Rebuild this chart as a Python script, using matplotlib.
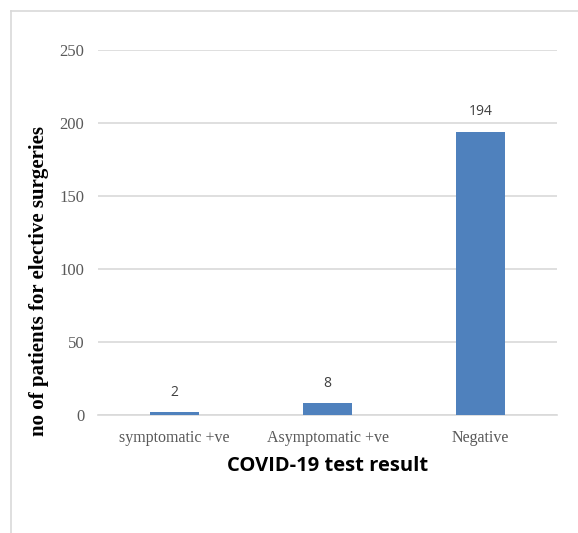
import matplotlib.pyplot as plt
from matplotlib.lines import Line2D

categories = ["symptomatic +ve", "Asymptomatic +ve", "Negative"]
patients = [2, 8, 194]
y_ticks = [0, 50, 100, 150, 200, 250]

fig = plt.figure(figsize=(5.78, 5.33), dpi=100)
ax = fig.add_axes([0.1696, 0.2214, 0.7941, 0.6848])

x = range(len(categories))
ax.bar(x, patients, width=0.32, color="#4f81bd", zorder=3)

for xi, v in zip(x, patients):
    ax.annotate(str(v), (xi, v), xytext=(0, 9), textcoords="offset points",
                ha="center", va="bottom", fontsize=10, color="#404040",
                family="Open Sans")

ax.set_xlim(-0.5, len(categories) - 0.5)
ax.set_ylim(0, 250)
ax.set_yticks(y_ticks)
ax.set_xticks(list(x))
ax.set_xticklabels(categories, family="Liberation Serif", fontsize=11.5, color="#595959")
for lab in ax.get_yticklabels():
    lab.set_family("Liberation Serif")
    lab.set_fontsize(12)
    lab.set_color("#595959")
ax.tick_params(length=0, pad=10, axis="y")
ax.tick_params(length=0, pad=11, axis="x")
ax.grid(axis="y", color="#d9d9d9", linewidth=1.2, zorder=0)
for s in ["top", "right", "left"]:
    ax.spines[s].set_visible(False)
ax.spines["bottom"].set_color("#d9d9d9")
ax.spines["bottom"].set_linewidth(1.2)

fig.text(0.5667, 1 - 466 / 533, "COVID-19 test result", ha="center", va="center",
         fontsize=14.5, fontweight="bold", family="Open Sans")
fig.text(39 / 578, 1 - 281 / 533, "no of patients for elective surgeries",
         rotation=90, ha="center", va="center", fontsize=15, fontweight="bold",
         family="Liberation Serif")

# outer border (top and left edges visible)
fig.add_artist(Line2D([11 / 578, 1], [1 - 11 / 533] * 2, color="#d9d9d9", lw=1.2))
fig.add_artist(Line2D([11 / 578] * 2, [0, 1 - 11 / 533], color="#d9d9d9", lw=1.2))

fig.savefig("out.png", dpi=100)
